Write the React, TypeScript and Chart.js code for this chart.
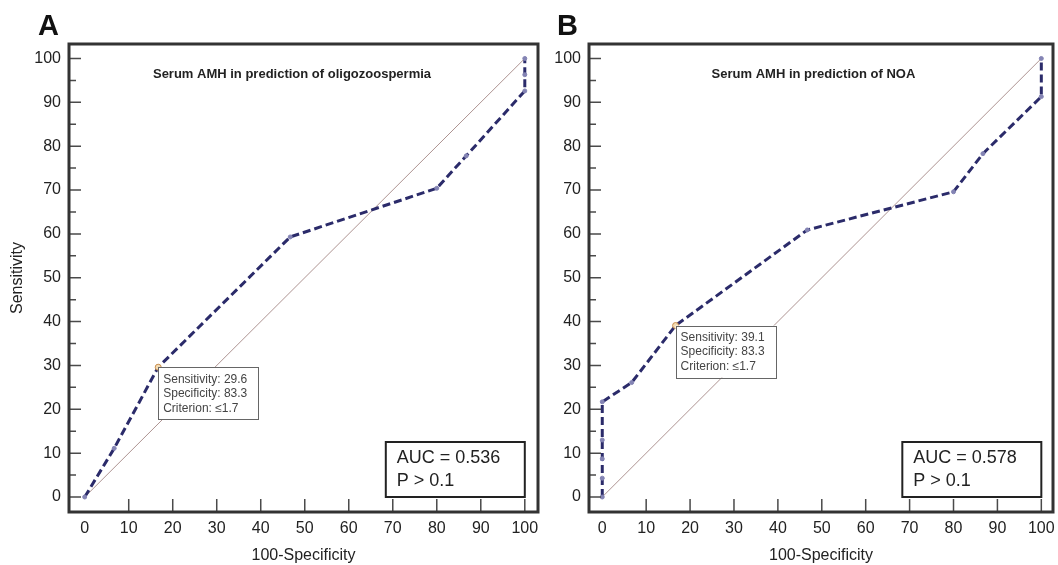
import React, { useEffect, useRef } from "react";
import { Chart, registerables } from "chart.js";

Chart.register(...registerables);

// ---- tick values ----
const xTickLabels = [0, 10, 20, 30, 40, 50, 60, 70, 80, 90, 100];
const xTickMarks = [10, 20, 30, 40, 50, 60, 70, 80, 90, 100];
const yTickLabels = [0, 10, 20, 30, 40, 50, 60, 70, 80, 90, 100];
const yMinorTicks = [5, 15, 25, 35, 45, 55, 65, 75, 85, 95];

// ---- reference (chance) line ----
const diagX = [0, 100];
const diagY = [0, 100];

// ---- Panel A: oligozoospermia ----
const rocAx = [0, 6.7, 16.7, 46.7, 80, 86.7, 100, 100, 100];
const rocAy = [0, 11.1, 29.6, 59.3, 70.4, 77.8, 92.6, 96.3, 100];
const critA = 2;
const titleA = "Serum AMH in prediction of oligozoospermia";
const critTextA = ["Sensitivity: 29.6", "Specificity: 83.3", "Criterion: \u22641.7"];
const aucTextA = ["AUC = 0.536", "P > 0.1"];

// ---- Panel B: NOA ----
const rocBx = [0, 0, 0, 0, 0, 6.7, 16.7, 46.7, 80, 86.7, 100, 100];
const rocBy = [0, 4.3, 8.7, 13.0, 21.7, 26.1, 39.1, 60.9, 69.6, 78.3, 91.3, 100];
const critB = 6;
const titleB = "Serum AMH in prediction of NOA";
const critTextB = ["Sensitivity: 39.1", "Specificity: 83.3", "Criterion: \u22641.7"];
const aucTextB = ["AUC = 0.578", "P > 0.1"];

const FONT = "Arial, 'Liberation Sans', Helvetica, sans-serif";

type Panel = {
  letter: string;
  letterX: number;
  left: number;
  width: number;
  yAxisWidth: number;
  padRight: number;
  xMin: number;
  xMax: number;
  rx: number[];
  ry: number[];
  crit: number;
  title: string;
  titleAt: number;
  critText: string[];
  aucText: string[];
  yTitle: boolean;
};

const panels: Panel[] = [
  {
    letter: "A", letterX: 38, left: 0, width: 546, yAxisWidth: 69, padRight: 8,
    xMin: -3.57, xMax: 103.0, rx: rocAx, ry: rocAy, crit: critA,
    title: titleA, titleAt: 47.1, critText: critTextA, aucText: aucTextA, yTitle: true,
  },
  {
    letter: "B", letterX: 11, left: 546, width: 512, yAxisWidth: 43, padRight: 4,
    xMin: -3.02, xMax: 102.66, rx: rocBx, ry: rocBy, crit: critB,
    title: titleB, titleAt: 48.1, critText: critTextB, aucText: aucTextB, yTitle: false,
  },
];

function makeDecor(p: Panel) {
  return {
    id: "decor" + p.letter,
    afterDraw(chart: any) {
      const { ctx, chartArea: a, scales } = chart;
      const x = scales.x;
      const y = scales.y;
      ctx.save();

      // inward tick marks
      ctx.strokeStyle = "#4a4a4a";
      ctx.lineWidth = 1.5;
      ctx.beginPath();
      for (const v of yTickLabels) {
        const py = y.getPixelForValue(v);
        ctx.moveTo(a.left, py);
        ctx.lineTo(a.left + 12, py);
      }
      for (const v of yMinorTicks) {
        const py = y.getPixelForValue(v);
        ctx.moveTo(a.left, py);
        ctx.lineTo(a.left + 7, py);
      }
      for (const v of xTickMarks) {
        const px = x.getPixelForValue(v);
        ctx.moveTo(px, a.bottom);
        ctx.lineTo(px, a.bottom - 13);
      }
      ctx.stroke();

      // frame
      ctx.strokeStyle = "#333";
      ctx.lineWidth = 3;
      ctx.strokeRect(a.left, a.top, a.right - a.left, a.bottom - a.top);

      // title
      ctx.fillStyle = "#222";
      ctx.font = "bold 13px " + FONT;
      ctx.textAlign = "center";
      ctx.textBaseline = "middle";
      ctx.fillText(p.title, x.getPixelForValue(p.titleAt), a.top + 30);

      // criterion box
      const cx = x.getPixelForValue(p.rx[p.crit]);
      const cy = y.getPixelForValue(p.ry[p.crit]);
      ctx.fillStyle = "#fff";
      ctx.fillRect(cx, cy, 100, 52);
      ctx.strokeStyle = "#666";
      ctx.lineWidth = 1;
      ctx.strokeRect(Math.round(cx) + 0.5, Math.round(cy) + 0.5, 100, 52);
      ctx.fillStyle = "#444";
      ctx.font = "12px " + FONT;
      ctx.textAlign = "left";
      ctx.textBaseline = "middle";
      p.critText.forEach((t, i) => ctx.fillText(t, cx + 5, cy + 12 + i * 14.5));

      // AUC box
      const bx = x.getPixelForValue(100);
      const by = y.getPixelForValue(0);
      ctx.fillStyle = "#fff";
      ctx.fillRect(bx - 139, by - 55, 139, 55);
      ctx.strokeStyle = "#222";
      ctx.lineWidth = 2;
      ctx.strokeRect(bx - 139, by - 55, 139, 55);
      ctx.fillStyle = "#222";
      ctx.font = "18px " + FONT;
      p.aucText.forEach((t, i) => ctx.fillText(t, bx - 128, by - 39 + i * 23));

      // panel letter
      ctx.font = "bold 29px " + FONT;
      ctx.textBaseline = "alphabetic";
      ctx.fillStyle = "#111";
      ctx.fillText(p.letter, p.letterX, 35);

      ctx.restore();
    },
  };
}

function RocPanel({ p }: { p: Panel }) {
  const ref = useRef<HTMLCanvasElement>(null);
  useEffect(() => {
    const canvas = ref.current;
    if (!canvas) return;
    const roc = p.rx.map((v, i) => ({ x: v, y: p.ry[i] }));
    const diag = diagX.map((v, i) => ({ x: v, y: diagY[i] }));
    const chart = new Chart(canvas, {
      type: "scatter",
      data: {
        datasets: [
          {
            data: roc,
            showLine: true,
            borderColor: "#2b2b6a",
            borderWidth: 3,
            borderDash: [8, 4],
            tension: 0,
            pointRadius: roc.map((_, i) => (i === p.crit ? 3 : 2)),
            pointBackgroundColor: roc.map((_, i) => (i === p.crit ? "#f4dcb4" : "#8484b4")),
            pointBorderColor: roc.map((_, i) => (i === p.crit ? "#c98e4e" : "#8484b4")),
            pointBorderWidth: 1,
          } as any,
          {
            data: diag,
            showLine: true,
            borderColor: "#ad9391",
            borderWidth: 1,
            pointRadius: 0,
          } as any,
        ],
      },
      options: {
        responsive: false,
        animation: false,
        devicePixelRatio: 1,
        layout: { padding: { left: 0, top: 44, right: p.padRight, bottom: 0 } },
        plugins: { legend: { display: false }, tooltip: { enabled: false } },
        scales: {
          x: {
            type: "linear",
            min: p.xMin,
            max: p.xMax,
            grid: { display: false, drawTicks: false },
            border: { display: false },
            afterBuildTicks: (s: any) => {
              s.ticks = xTickLabels.map((v) => ({ value: v }));
            },
            afterFit: (s: any) => {
              s.height = 53;
              s.paddingLeft = 0;
              s.paddingRight = 0;
            },
            ticks: {
              color: "#222",
              font: { family: FONT, size: 16 },
              padding: 7,
              maxRotation: 0,
              autoSkip: false,
              callback: (v: any) => String(v),
            },
            title: {
              display: true,
              text: "100-Specificity",
              color: "#222",
              font: { family: FONT, size: 16 },
              padding: { top: 0, bottom: 0 },
            },
          },
          y: {
            type: "linear",
            min: -3.42,
            max: 103.3,
            grid: { display: false, drawTicks: false },
            border: { display: false },
            afterBuildTicks: (s: any) => {
              s.ticks = yTickLabels.map((v) => ({ value: v }));
            },
            afterFit: (s: any) => {
              s.width = p.yAxisWidth;
              s.paddingTop = 0;
              s.paddingBottom = 0;
            },
            ticks: {
              color: "#222",
              font: { family: FONT, size: 16 },
              padding: 8,
              autoSkip: false,
              callback: (v: any) => String(v),
            },
            title: {
              display: p.yTitle,
              text: "Sensitivity",
              color: "#222",
              font: { family: FONT, size: 16 },
              padding: { top: 8, bottom: 0 },
            },
          },
        },
      } as any,
      plugins: [makeDecor(p)],
    });
    return () => chart.destroy();
  }, [p]);
  return (
    <canvas
      ref={ref}
      width={p.width}
      height={565}
      style={{ position: "absolute", left: p.left, top: 0, width: p.width, height: 565 }}
    />
  );
}

export default function App() {
  return (
    <div
      style={{
        position: "absolute",
        left: 0,
        top: 0,
        width: 1058,
        height: 565,
        background: "#fff",
        overflow: "hidden",
      }}
    >
      {panels.map((p) => (
        <RocPanel key={p.letter} p={p} />
      ))}
    </div>
  );
}
